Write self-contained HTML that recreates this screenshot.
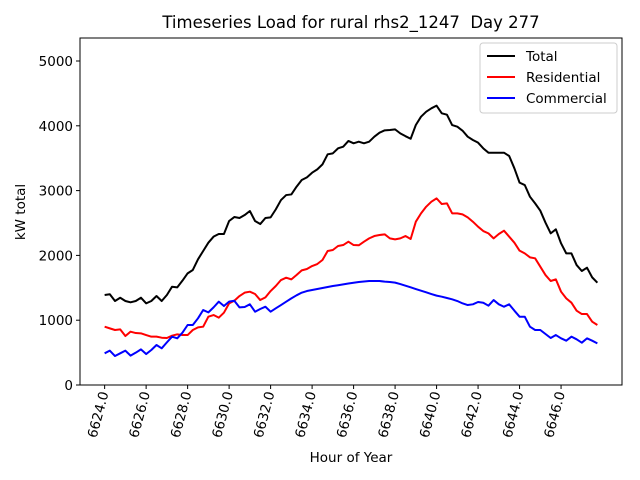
<!DOCTYPE html>
<html><head><meta charset="utf-8"><style>
html,body{margin:0;padding:0;background:#fff}
svg{display:block;font-family:"DejaVu Sans","Liberation Sans",sans-serif}
</style></head><body>
<svg id="chart" width="640" height="480" viewBox="0 0 640 480">
<rect width="640" height="480" fill="#fff"/>
<text x="351" y="28" font-size="16.5" text-anchor="middle">Timeseries Load for rural rhs2_1247 &#160;Day 277</text>
<g id="grid"></g>
<g id="series"></g>
<rect x="80" y="38" width="542" height="347" fill="none" stroke="#000" stroke-width="1"/>
<text x="351" y="462" font-size="13.5" text-anchor="middle">Hour of Year</text>
<text transform="translate(25,212) rotate(-90)" font-size="13.5" text-anchor="middle">kW total</text>
<g>
<rect x="480" y="43" width="137" height="70" rx="3" fill="#fff" fill-opacity="0.8" stroke="#ccc"/>
<line x1="487" y1="56" x2="515" y2="56" stroke="#000" stroke-width="2"/>
<text x="526" y="61" font-size="13.5">Total</text>
<line x1="487" y1="77" x2="515" y2="77" stroke="#f00" stroke-width="2"/>
<text x="526" y="82" font-size="13.5">Residential</text>
<line x1="487" y1="98" x2="515" y2="98" stroke="#00f" stroke-width="2"/>
<text x="526" y="103" font-size="13.5">Commercial</text>
</g>
</svg>
<script>
const startHour = 6624;
const stepHours = 0.25;
const totalLoad = [1389,1400,1296,1347,1296,1276,1296,1347,1260,1296,1373,1296,1389,1517,1507,1610,1723,1775,1940,2068,2196,2289,2330,2330,2531,2592,2577,2623,2685,2531,2484,2577,2587,2710,2854,2931,2941,3060,3163,3204,3276,3328,3405,3560,3575,3652,3678,3766,3730,3755,3730,3755,3832,3894,3930,3935,3945,3883,3840,3800,4012,4141,4218,4270,4311,4193,4172,4012,3986,3925,3832,3781,3740,3652,3585,3585,3585,3585,3534,3344,3123,3086,2906,2803,2690,2505,2340,2402,2186,2031,2031,1851,1759,1810,1661,1579];
const residentialLoad = [900,874,849,859,756,823,802,797,771,746,746,730,725,761,782,771,771,849,890,900,1054,1080,1039,1116,1260,1301,1373,1425,1440,1404,1311,1353,1450,1528,1620,1656,1630,1697,1769,1790,1836,1867,1929,2068,2083,2145,2160,2212,2160,2156,2212,2263,2299,2315,2325,2263,2248,2263,2299,2253,2520,2649,2752,2829,2880,2793,2803,2649,2649,2633,2587,2520,2443,2376,2340,2263,2330,2381,2289,2196,2073,2031,1970,1955,1826,1697,1605,1630,1440,1337,1270,1147,1095,1095,977,926];
const commercialLoad = [489,530,447,489,530,453,499,550,478,540,617,566,658,746,720,807,926,926,1029,1157,1121,1198,1286,1219,1286,1301,1198,1203,1245,1131,1173,1208,1131,1183,1234,1286,1337,1384,1425,1450,1466,1481,1497,1512,1528,1540,1553,1566,1578,1590,1598,1605,1605,1605,1595,1590,1580,1558,1533,1507,1481,1456,1430,1404,1379,1363,1343,1322,1296,1260,1234,1245,1281,1270,1224,1311,1245,1208,1245,1147,1054,1054,900,849,849,787,725,771,720,684,746,705,653,720,684,643];
const yTicks = [0,1000,2000,3000,4000,5000];
const xTicks = [6624,6626,6628,6630,6632,6634,6636,6638,6640,6642,6644,6646];

const NS = "http://www.w3.org/2000/svg";
const pL=80,pR=622,pT=38,pB=385;
const nPts = totalLoad.length;
const xMin0 = startHour, xMax0 = startHour + (nPts-1)*stepHours;
const xPad = (xMax0-xMin0)*0.05;
const xMin = xMin0-xPad, xMax = xMax0+xPad;
const yMax = 5355;
function xs(v){return pL+(v-xMin)/(xMax-xMin)*(pR-pL);}
function ys(v){return pB-(v/yMax)*(pB-pT);}

const grid=document.getElementById('grid');
yTicks.forEach(t=>{
  const y=ys(t);
  const l=document.createElementNS(NS,'line');
  l.setAttribute('x1',pL-4);l.setAttribute('x2',pL);l.setAttribute('y1',y);l.setAttribute('y2',y);
  l.setAttribute('stroke','#000');
  
  
  grid.appendChild(l);
  const tx=document.createElementNS(NS,'text');
  tx.setAttribute('x',pL-7);tx.setAttribute('y',y+5);tx.setAttribute('font-size','13.5');tx.setAttribute('text-anchor','end');
  tx.textContent=t;
  
  
  grid.appendChild(tx);
});
xTicks.forEach(t=>{
  const x=xs(t);
  const l=document.createElementNS(NS,'line');
  l.setAttribute('x1',x);l.setAttribute('x2',x);l.setAttribute('y1',pB);l.setAttribute('y2',pB+4);
  l.setAttribute('stroke','#000');
  
  
  grid.appendChild(l);
  const tx=document.createElementNS(NS,'text');
  tx.setAttribute('transform','translate('+(x+4)+','+(pB+8)+') rotate(-75)');
  tx.setAttribute('font-size','13.5');tx.setAttribute('text-anchor','end');
  tx.textContent=t.toFixed(1);
  
  
  grid.appendChild(tx);
});

const series=document.getElementById('series');
function drawLine(arr,color,name){
  const pts=arr.map((v,i)=>xs(startHour+i*stepHours).toFixed(2)+','+ys(v).toFixed(2)).join(' ');
  const p=document.createElementNS(NS,'polyline');
  p.setAttribute('points',pts);p.setAttribute('fill','none');p.setAttribute('stroke',color);
  p.setAttribute('stroke-width','2');p.setAttribute('stroke-linejoin','round');
  
  
  series.appendChild(p);
}
drawLine(totalLoad,'#000','total-line');
drawLine(residentialLoad,'#f00','residential-line');
drawLine(commercialLoad,'#00f','commercial-line');
</script>
</body></html>
